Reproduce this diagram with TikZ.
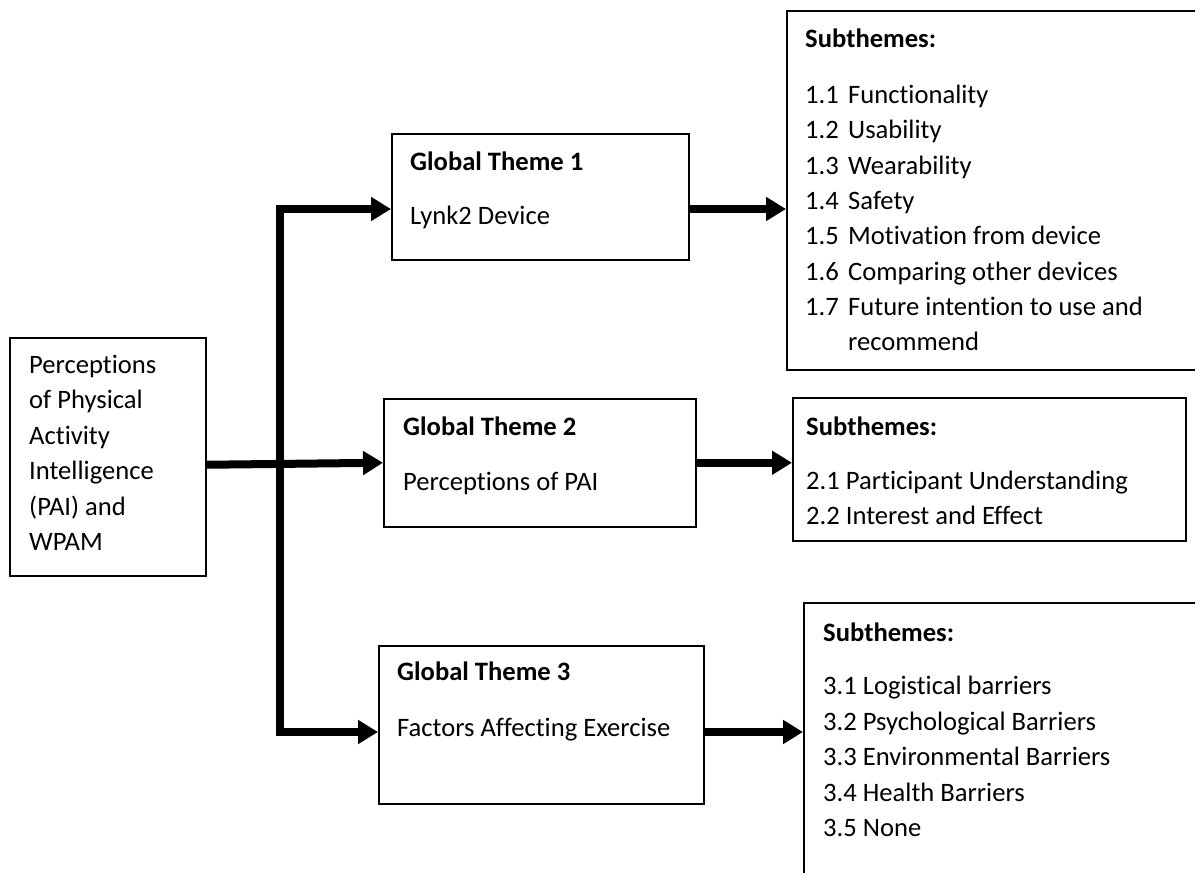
\documentclass[tikz,border=0pt]{standalone}
\usepackage{fontspec}
\setmainfont{Carlito}[Ligatures=NoCommon]
\usetikzlibrary{arrows.meta}

\tikzset{
  >={Triangle[length=20pt,width=23pt]},
  box/.style={draw, line width=1.5pt, inner sep=0pt, anchor=north west},
  txt/.style={anchor=base west, inner sep=0pt, font=\fontsize{26.6}{35}\selectfont},
  hdr/.style={txt, font=\fontsize{26.6}{35}\selectfont\bfseries},
  arr/.style={line width=8pt, ->},
}

\begin{document}
\begin{tikzpicture}[x=1pt,y=-1pt]
  \useasboundingbox (0,0) rectangle (1195,873);
  \clip (0,0) rectangle (1195,873);

  % boxes
  \node[box, minimum width=196pt, minimum height=238pt] (pai) at (9,337) {};
  \node[box, minimum width=297pt, minimum height=126pt] (gt1) at (391,133) {};
  \node[box, minimum width=312pt, minimum height=128pt] (gt2) at (383,398) {};
  \node[box, minimum width=325pt, minimum height=158pt] (gt3) at (378,645) {};
  \node[box, minimum width=430pt, minimum height=359pt] (sub1) at (786,10) {};
  \node[box, minimum width=393pt, minimum height=143pt] (sub2) at (792,397) {};
  \node[box, minimum width=420pt, minimum height=300pt] (sub3) at (803,602) {};

  % left box text
  \foreach \lbl [count=\i from 0] in {Perceptions, of Physical, Activity, Intelligence, (PAI) and, WPAM}
    \node[txt] (pai-\i) at (29,373.5+35.4*\i) {\lbl};

  % global themes
  \node[hdr] (gt1-h) at (410,170.5) {Global Theme 1};
  \node[txt] (gt1-t) at (410,224.5) {Lynk2 Device};
  \node[hdr] (gt2-h) at (403,435.5) {Global Theme 2};
  \node[txt] (gt2-t) at (403,490.5) {Perceptions of PAI};
  \node[hdr] (gt3-h) at (397,680.5) {Global Theme 3};
  \node[txt] (gt3-t) at (397,736.5) {Factors Affecting Exercise};

  % subthemes 1
  \node[hdr] (sub1-h) at (805,47.5) {Subthemes:};
  \foreach \num/\what [count=\i from 0] in {1.1/Functionality, 1.2/Usability, 1.3/Wearability, 1.4/Safety, 1.5/Motivation from device, 1.6/Comparing other devices, 1.7/Future intention to use and}
    \node[txt] (sub1-\i) at (805,103.5+35.3*\i) {\makebox[43pt][l]{\num}\what};
  \node[txt] (sub1-r) at (848,350.6) {recommend};

  % subthemes 2
  \node[hdr] (sub2-h) at (806,435.5) {Subthemes:};
  \node[txt] (sub2-1) at (806,489.5) {2.1 Participant Understanding};
  \node[txt] (sub2-2) at (806,524.5) {2.2 Interest and Effect};

  % subthemes 3
  \node[hdr] (sub3-h) at (823,641.5) {Subthemes:};
  \foreach \lbl [count=\i from 0] in {3.1 Logistical barriers, 3.2 Psychological Barriers, 3.3 Environmental Barriers, 3.4 Health Barriers, 3.5 None}
    \node[txt] (sub3-\i) at (823,694.5+35.5*\i) {\lbl};

  % connectors
  \coordinate (jt) at (280,209);
  \coordinate (jb) at (280,732);
  \draw[arr] ([yshift=-8pt]pai.east) -- (gt2.west);
  \draw[line width=8pt, <->] (gt3.west |- jb) -- (jb) -- (jt) -- (gt1.west |- jt);
  \draw[arr] (gt1.east |- jt) -- (sub1.west |- jt);
  \draw[arr] (gt2.east) -- (sub2.west |- gt2.east);
  \draw[arr] (gt3.east |- jb) -- (sub3.west |- jb);
\end{tikzpicture}
\end{document}
